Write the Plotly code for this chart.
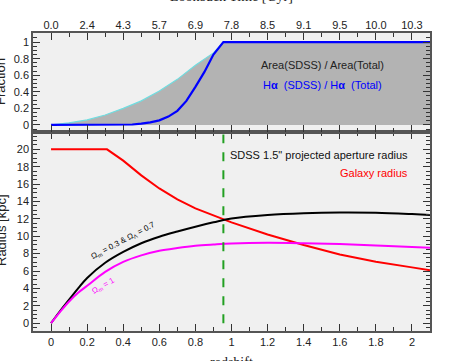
import plotly.graph_objects as go

# ---- data
# top panel: fractions vs redshift
z_area = [0, 0.1, 0.2, 0.3, 0.4, 0.5, 0.6, 0.7, 0.8, 0.9, 0.955, 1.2, 1.6, 2.1]
area_frac = [0, 0.025, 0.06, 0.12, 0.2, 0.29, 0.41, 0.55, 0.72, 0.87, 1, 1, 1, 1]

z_ha = [0, 0.3, 0.45, 0.5, 0.55, 0.6, 0.65, 0.7, 0.75, 0.8, 0.85, 0.9, 0.955, 2.1]
ha_frac = [0, 0, 0.005, 0.015, 0.03, 0.055, 0.1, 0.17, 0.29, 0.46, 0.64, 0.85, 1, 1]

# bottom panel: radii vs redshift
z_rad = [0, 0.05, 0.1, 0.15, 0.2, 0.3, 0.4, 0.5, 0.6, 0.7, 0.8, 0.9, 1.0, 1.2, 1.4, 1.6, 1.8, 2.0, 2.1]
r_lcdm = [0, 1.4, 2.7, 4.0, 5.2, 6.95, 8.2, 9.2, 9.95, 10.55, 11.1, 11.6, 12.05, 12.45, 12.65, 12.73, 12.7, 12.55, 12.45]
r_eds = [0, 1.3, 2.5, 3.5, 4.3, 5.9, 7.05, 7.8, 8.33, 8.65, 8.9, 9.05, 9.17, 9.25, 9.2, 9.1, 8.95, 8.75, 8.67]

z_gal = [0, 0.31, 0.4, 0.5, 0.6, 0.7, 0.8, 0.9, 1.0, 1.2, 1.4, 1.6, 1.8, 2.0, 2.1]
r_gal = [20, 20, 18.7, 17.0, 15.5, 14.25, 13.2, 12.4, 11.6, 10.2, 9.0, 7.9, 7.07, 6.42, 6.1]

z_cut = 0.955
cut_y = [0, 21.7]

# top axis: lookback time labels at redshift ticks
z_ticks = [0, 0.2, 0.4, 0.6, 0.8, 1.0, 1.2, 1.4, 1.6, 1.8, 2.0]
z_labels = ["0", "0.2", "0.4", "0.6", "0.8", "1", "1.2", "1.4", "1.6", "1.8", "2"]
lookback = ["0.0", "2.4", "4.3", "5.7", "6.9", "7.8", "8.5", "9.1", "9.5", "10.0", "10.3"]

SANS = "Liberation Sans, Arial, sans-serif"
SERIF = "Liberation Serif, Times New Roman, serif"
FRAME = "#555555"

fig = go.Figure()

# ---- top panel
fig.add_trace(go.Scatter(x=z_area, y=area_frac, mode="lines", fill="tozeroy",
                         fillcolor="#b3b3b3", line=dict(color="#70dde0", width=1.2),
                         xaxis="x2", yaxis="y2", showlegend=False))
fig.add_trace(go.Scatter(x=z_ha, y=ha_frac, mode="lines",
                         line=dict(color="#0000ff", width=2.2),
                         xaxis="x2", yaxis="y2", showlegend=False))

# ---- bottom panel
fig.add_trace(go.Scatter(x=z_gal, y=r_gal, mode="lines",
                         line=dict(color="#ff0000", width=2), showlegend=False))
fig.add_trace(go.Scatter(x=z_rad, y=r_lcdm, mode="lines", line_shape="spline",
                         line=dict(color="#000000", width=2), showlegend=False))
fig.add_trace(go.Scatter(x=z_rad, y=r_eds, mode="lines", line_shape="spline",
                         line=dict(color="#ff00ff", width=2), showlegend=False))
fig.add_trace(go.Scatter(x=[z_cut, z_cut], y=cut_y, mode="lines",
                         line=dict(color="#22a022", width=2, dash="dash"), showlegend=False))

axis_common = dict(showgrid=False, zeroline=False, showline=True, linecolor=FRAME,
                   linewidth=1.5, mirror="ticks", ticks="inside", tickcolor="#333",
                   automargin=False, ticklen=7,
                   tickfont=dict(family=SANS, size=11, color="#222"))
minor_tick = dict(ticklen=4, ticks="inside", tickcolor="#333")

fig.update_layout(
    width=471, height=361,
    margin=dict(l=33, r=41, t=33, b=30),
    paper_bgcolor="white", plot_bgcolor="#f0f0f0",
    xaxis=dict(range=[-0.1, 2.1], domain=[0, 1], anchor="y",
               tickvals=z_ticks, ticktext=z_labels,
               minor=dict(dtick=0.1, **minor_tick), **axis_common),
    yaxis=dict(range=[-0.9, 22], domain=[0, 0.668], anchor="x",
               tickvals=list(range(0, 22, 2)),
               minor=dict(dtick=0.5, **minor_tick), **axis_common),
    xaxis2=dict(range=[-0.1, 2.1], domain=[0, 1], anchor="y2", side="top",
                tickvals=z_ticks, ticktext=lookback, ticklabelstandoff=-2,
                minor=dict(dtick=0.1, **minor_tick), **axis_common),
    yaxis2=dict(range=[-0.085, 1.11], domain=[0.668, 1], anchor="x2",
                tickvals=[0, 0.2, 0.4, 0.6, 0.8, 1], ticktext=["0", "0.2", "0.4", "0.6", "0.8", "1"],
                minor=dict(dtick=0.05, **minor_tick), **axis_common),
)

ann = [
    dict(x=1.507, y=0.725, xref="x2", yref="y2", text="Area(SDSS) / Area(Total)",
         font=dict(family=SANS, size=11, color="#222")),
    dict(x=1.507, y=0.48, xref="x2", yref="y2", text="H<b>α</b>  (SDSS) / H<b>α</b>  (Total)",
         font=dict(family=SANS, size=11, color="#0000ff")),
    dict(x=1.99, y=19.4, xref="x", yref="y", xanchor="right",
         text="SDSS 1.5\" projected aperture radius",
         font=dict(family=SANS, size=11, color="#111")),
    dict(x=1.99, y=17.25, xref="x", yref="y", xanchor="right", text="Galaxy radius",
         font=dict(family=SANS, size=11, color="#ff0000")),
    dict(x=0.40, y=9.4, xref="x", yref="y", textangle=-28,
         text="Ω<sub>m</sub> = 0.3 & Ω<sub>Λ</sub> = 0.7",
         font=dict(family=SANS, size=8, color="#000")),
    dict(x=0.29, y=4.3, xref="x", yref="y", textangle=-30, text="Ω<sub>m</sub> = 1",
         font=dict(family=SANS, size=8, color="#ff00ff")),
    # axis titles (partly cut by the page edge, as in the reference)
    dict(x=(231 - 33) / 397, y=(331 + 3) / 298, xref="paper", yref="paper",
         text="Lookback Time [Gyr]", font=dict(family=SERIF, size=14, color="#222")),
    dict(x=(231 - 33) / 397, y=(331 - 362) / 298, xref="paper", yref="paper",
         text="redshift", font=dict(family=SERIF, size=14, color="#222")),
    dict(x=(0 - 33) / 397, y=(331 - 82) / 298, xref="paper", yref="paper", textangle=-90,
         text="Fraction", font=dict(family=SANS, size=13, color="#222")),
    dict(x=(1 - 33) / 397, y=(331 - 230) / 298, xref="paper", yref="paper", textangle=-90,
         text="Radius [kpc]", font=dict(family=SANS, size=13, color="#222")),
]
for a in ann:
    a.setdefault("showarrow", False)
    a.setdefault("xanchor", "center")
    a.setdefault("yanchor", "middle")
    fig.add_annotation(**a)

# page body has an 8px default margin; drop it so the figure sits at (0, 0)
fig.write_html("out.html", config={"displayModeBar": False},
               post_script="document.body.style.margin='0';document.body.style.overflow='hidden';")
